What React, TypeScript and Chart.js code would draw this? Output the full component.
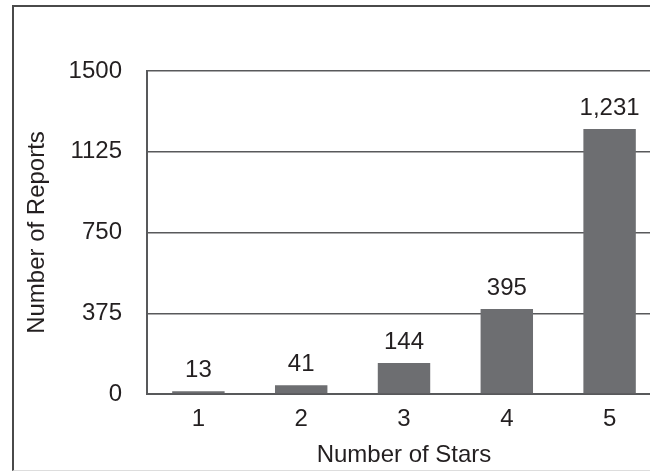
import React, { useEffect, useRef } from "react";
import { Chart, registerables } from "chart.js";

Chart.register(...registerables);

const categories = ["1", "2", "3", "4", "5"];
const reports = [13, 41, 144, 395, 1231];
const yTicks = [0, 375, 750, 1125, 1500];

const TEXT = "#231f20";
const BAR = "#6d6e71";
const LINE = "#58595b";
const FONT = "'Liberation Sans', Arial, Helvetica, sans-serif";
const FS = 24;

const labelPlugin = {
  id: "barLabels",
  afterDatasetsDraw(chart: any) {
    const ctx = chart.ctx;
    const meta = chart.getDatasetMeta(0);
    ctx.save();
    ctx.font = `${FS}px ${FONT}`;
    ctx.fillStyle = TEXT;
    ctx.textAlign = "center";
    ctx.textBaseline = "alphabetic";
    meta.data.forEach((bar: any, i: number) => {
      ctx.fillText(reports[i].toLocaleString("en-US"), bar.x, bar.y - 14);
    });
    ctx.restore();
  },
};

export default function App() {
  const ref = useRef<HTMLCanvasElement>(null);
  useEffect(() => {
    if (!ref.current) return;
    const chart = new Chart(ref.current, {
      type: "bar",
      data: {
        labels: categories,
        datasets: [
          {
            data: reports,
            backgroundColor: BAR,
            borderWidth: 0,
            barPercentage: 0.51,
            categoryPercentage: 1,
          },
        ],
      },
      options: {
        animation: false,
        responsive: false,
        maintainAspectRatio: false,
        layout: { padding: { top: 71, right: 1, bottom: 1, left: 12 } },
        plugins: { legend: { display: false }, tooltip: { enabled: false } },
        scales: {
          x: {
            afterFit: (s: any) => {
              s.height = 76;
            },
            grid: { display: false, drawTicks: false },
            border: { display: true, color: LINE, width: 2 },
            ticks: { color: TEXT, font: { size: FS, family: FONT }, padding: 11 },
            title: {
              display: true,
              text: "Number of Stars",
              color: TEXT,
              font: { size: FS, family: FONT },
              padding: { top: 0, bottom: 0 },
            },
          },
          y: {
            min: 0,
            max: 1500,
            afterFit: (s: any) => {
              s.width = 135;
            },
            afterBuildTicks: (s: any) => {
              s.ticks = yTicks.map((v) => ({ value: v }));
            },
            grid: { color: LINE, lineWidth: 1.5, drawTicks: false },
            border: { display: true, color: LINE, width: 2 },
            ticks: {
              color: TEXT,
              font: { size: FS, family: FONT },
              padding: 25,
              callback: (v: any) => String(v),
            },
            title: {
              display: true,
              text: "Number of Reports",
              color: TEXT,
              font: { size: FS, family: FONT },
              padding: { top: 11, bottom: 0 },
            },
          },
        },
      },
      plugins: [labelPlugin],
    });
    return () => chart.destroy();
  }, []);

  return (
    <div
      style={{
        position: "absolute",
        left: 0,
        top: 0,
        width: 650,
        height: 471,
        overflow: "hidden",
        background: "#fff",
      }}
    >
      <div
        style={{
          position: "absolute",
          left: 12,
          top: 5,
          width: 700,
          height: 463,
          borderLeft: "2px solid #4a4a4a",
          borderTop: "2px solid #4a4a4a",
          borderBottom: "1px solid #dddddd",
        }}
      />
      <canvas
        ref={ref}
        width={662}
        height={471}
        style={{ position: "absolute", left: 0, top: 0, width: 662, height: 471 }}
      />
    </div>
  );
}
